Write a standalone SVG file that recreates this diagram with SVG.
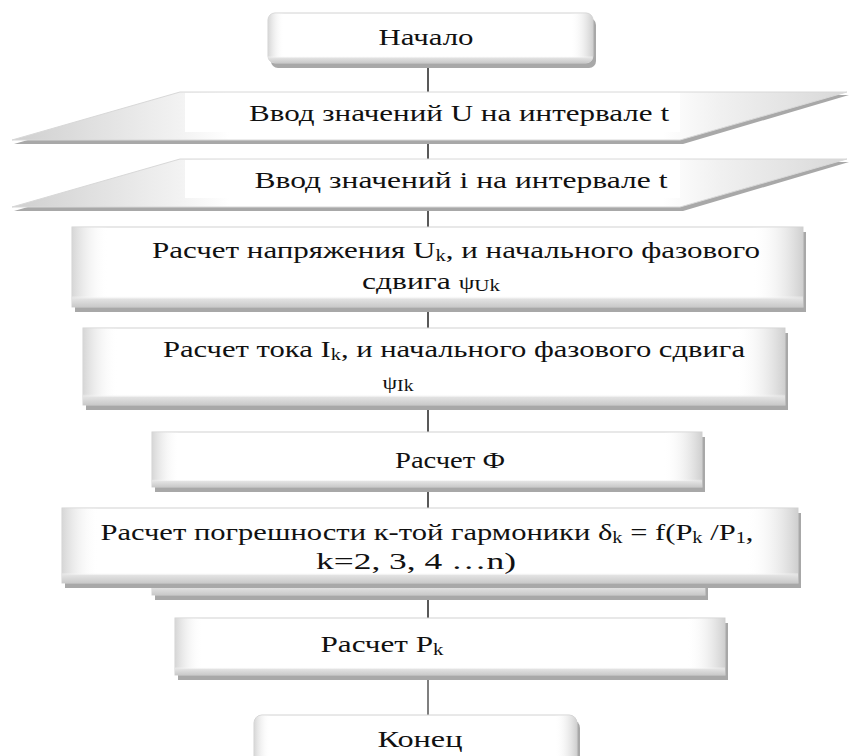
<svg xmlns="http://www.w3.org/2000/svg" width="849" height="756" viewBox="0 0 849 756">
<defs>
<linearGradient id="gh" x1="0" y1="0" x2="1" y2="0">
<stop offset="0" stop-color="#d6d6d6" stop-opacity="1"/>
<stop offset="0.05" stop-color="#ffffff" stop-opacity="0"/>
<stop offset="0.93" stop-color="#ffffff" stop-opacity="0"/>
<stop offset="1" stop-color="#cfcfcf" stop-opacity="1"/>
</linearGradient>
<linearGradient id="gv" x1="0" y1="0" x2="0" y2="1">
<stop offset="0" stop-color="#ffffff" stop-opacity="0"/>
<stop offset="0.86" stop-color="#ffffff" stop-opacity="0"/>
<stop offset="0.9" stop-color="#e2e2e2" stop-opacity="1"/>
<stop offset="1" stop-color="#c9c9c9" stop-opacity="1"/>
</linearGradient>
<linearGradient id="gp" x1="0" y1="0" x2="1" y2="0">
<stop offset="0" stop-color="#cfcfcf"/>
<stop offset="0.2" stop-color="#f2f2f2"/>
<stop offset="0.26" stop-color="#ffffff"/>
<stop offset="0.78" stop-color="#ffffff"/>
<stop offset="0.85" stop-color="#f0f0f0"/>
<stop offset="1" stop-color="#d8d8d8"/>
</linearGradient>
</defs>
<style>
.sh{fill:#a8a8a8}
.box{fill:#ffffff;stroke:#d2d2d2;stroke-width:1}
.gh{fill:url(#gh)}
.gv{fill:url(#gv)}
.par{fill:url(#gp);stroke:#d8d8d8;stroke-width:1}
.in{fill:#ffffff}
.t{font-family:"Liberation Serif","Times New Roman","DejaVu Serif",serif;font-size:24px;fill:#111111;text-anchor:middle}
.sub{font-size:16px}
.c{stroke:#222222;stroke-width:1.5;fill:none}
</style>

<g id="connectors">
<line class="c" x1="428" y1="63" x2="428" y2="92"/>
<line class="c" x1="428" y1="140" x2="428" y2="159"/>
<line class="c" x1="428" y1="207" x2="428" y2="227"/>
<line class="c" x1="428" y1="312" x2="428" y2="328"/>
<line class="c" x1="428" y1="410" x2="428" y2="432"/>
<line class="c" x1="428" y1="492" x2="428" y2="508"/>
<line class="c" x1="428" y1="588" x2="428" y2="618"/>
<line class="c" x1="428" y1="680" x2="428" y2="715" style="stroke:#555555"/>
</g>

<g id="start">
<rect class="sh" x="271" y="18" width="325" height="50" rx="7"/>
<rect class="box" x="268" y="13" width="325" height="50" rx="7"/>
<rect class="gh" x="268" y="13" width="325" height="50" rx="7"/>
<rect class="gv" x="268" y="13" width="325" height="50" rx="7"/>
<text class="t" x="426" y="45" textLength="95" lengthAdjust="spacingAndGlyphs">Начало</text>
</g>

<g id="inputU">
<polygon class="sh" points="183,95 849,95 683,144 14,144"/>
<polygon class="par" points="180,92 847,92 680,140 12,140"/>
<rect class="in" x="185" y="93" width="495" height="39"/>
<text class="t" x="459" y="121" textLength="420" lengthAdjust="spacingAndGlyphs">Ввод значений U на интервале t</text>
</g>

<g id="inputI">
<polygon class="sh" points="183,162 849,162 683,211 14,211"/>
<polygon class="par" points="180,159 847,159 680,207 12,207"/>
<rect class="in" x="185" y="160" width="495" height="38"/>
<text class="t" x="461" y="188" textLength="413" lengthAdjust="spacingAndGlyphs">Ввод значений i на интервале t</text>
</g>

<g id="calcU">
<rect class="sh" x="75" y="232" width="731" height="80"/>
<rect class="box" x="72" y="227" width="731" height="80"/>
<rect class="gh" x="72" y="227" width="731" height="80"/>
<rect class="gv" x="72" y="227" width="731" height="80"/>
<text class="t" x="456" y="258" textLength="608" lengthAdjust="spacingAndGlyphs">Расчет напряжения U<tspan class="sub" dy="3">k</tspan><tspan dy="-3">,  и начального фазового</tspan></text>
<text class="t" x="431" y="289" textLength="138" lengthAdjust="spacingAndGlyphs">сдвига <tspan style="font-size:19px">ψ</tspan><tspan class="sub" dy="2">Uk</tspan></text>
</g>

<g id="calcI">
<rect class="sh" x="86" y="333" width="702" height="77"/>
<rect class="box" x="83" y="328" width="702" height="77"/>
<rect class="gh" x="83" y="328" width="702" height="77"/>
<rect class="gv" x="83" y="328" width="702" height="77"/>
<text class="t" x="454" y="357" textLength="582" lengthAdjust="spacingAndGlyphs">Расчет тока I<tspan class="sub" dy="3">k</tspan><tspan dy="-3">, и начального фазового сдвига</tspan></text>
<text class="t" x="398" y="389" textLength="31" lengthAdjust="spacingAndGlyphs"><tspan style="font-size:19px">ψ</tspan><tspan class="sub" dy="2">Ik</tspan></text>
</g>

<g id="calcPhi">
<rect class="sh" x="155" y="437" width="550" height="55"/>
<rect class="box" x="152" y="432" width="550" height="55"/>
<rect class="gh" x="152" y="432" width="550" height="55"/>
<rect class="gv" x="152" y="432" width="550" height="55"/>
<text class="t" x="450" y="468" textLength="110" lengthAdjust="spacingAndGlyphs">Расчет Ф</text>
</g>

<g id="calcErr">
<rect class="sh" x="155" y="525" width="553" height="75"/>
<rect class="box" x="152" y="520" width="553" height="75"/>
<rect class="gv" x="152" y="520" width="553" height="75"/>
<rect class="sh" x="65" y="513" width="736" height="75"/>
<rect class="box" x="62" y="508" width="736" height="75"/>
<rect class="gh" x="62" y="508" width="736" height="75"/>
<rect class="gv" x="62" y="508" width="736" height="75"/>
<text class="t" x="427" y="540" textLength="653" lengthAdjust="spacingAndGlyphs">Расчет погрешности к-той гармоники δ<tspan class="sub" dy="3">k</tspan><tspan dy="-3"> = f(P</tspan><tspan class="sub" dy="3">k</tspan><tspan dy="-3"> /P</tspan><tspan class="sub" dy="3">1</tspan><tspan dy="-3">,</tspan></text>
<text class="t" x="416" y="569" textLength="200" lengthAdjust="spacingAndGlyphs">k=2, 3, 4 …n)</text>
</g>

<g id="calcP">
<rect class="sh" x="178" y="623" width="550" height="57"/>
<rect class="box" x="175" y="618" width="550" height="57"/>
<rect class="gh" x="175" y="618" width="550" height="57"/>
<rect class="gv" x="175" y="618" width="550" height="57"/>
<text class="t" x="382" y="652" textLength="123" lengthAdjust="spacingAndGlyphs">Расчет P<tspan class="sub" dy="3">k</tspan></text>
</g>

<g id="end">
<rect class="sh" x="257" y="720" width="323" height="50" rx="8"/>
<rect class="box" x="254" y="715" width="323" height="50" rx="8"/>
<rect class="gh" x="254" y="715" width="323" height="50" rx="8"/>
<text class="t" x="420" y="747" textLength="85" lengthAdjust="spacingAndGlyphs">Конец</text>
</g>
</svg>
